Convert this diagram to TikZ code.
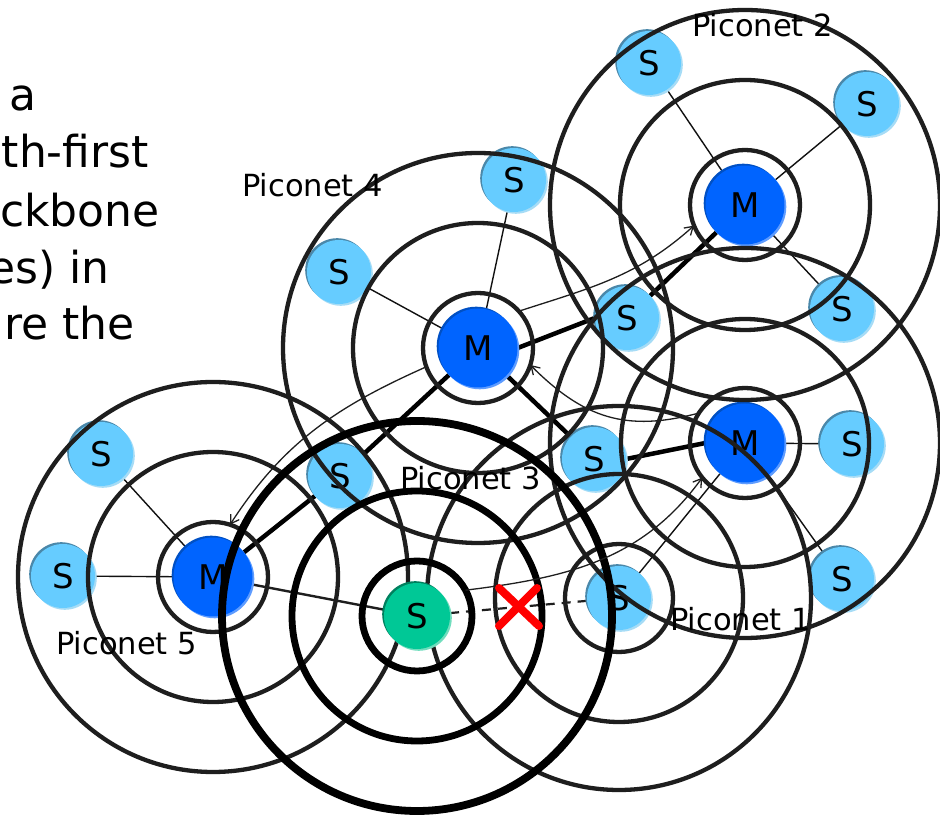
\documentclass[tikz,border=0pt]{standalone}
\usepackage{fontspec}
\setmainfont{DejaVu Sans}
\usetikzlibrary{shadows,arrows.meta}
\definecolor{sfill}{HTML}{66CCFF}
\definecolor{sdark}{HTML}{4A88AA}
\definecolor{slight}{HTML}{A6DCF6}
\definecolor{mfill}{HTML}{0064FF}
\definecolor{mdark}{HTML}{0050C4}
\definecolor{mlight}{HTML}{5E9CFF}
\definecolor{gfill}{HTML}{00C896}
\definecolor{gdark}{HTML}{00805E}
\definecolor{glight}{HTML}{70DDBD}
\definecolor{ringc}{HTML}{1E1E1E}
\definecolor{linkc}{HTML}{111111}
\definecolor{xred}{HTML}{FF0000}
\newcommand\mynodefont{\fontsize{34}{34}\selectfont}
\newcommand\myplabelfont{\fontsize{30.5}{30.5}\selectfont}
\newcommand\mylefttextfont{\fontsize{44}{44}\selectfont}
\pgfdeclarelayer{bg}
\pgfsetlayers{bg,main}
\begin{document}
\begin{tikzpicture}[x=1pt,y=1pt,
  slave/.style={circle, inner sep=0pt, minimum size=64pt, fill=sfill, font=\mynodefont,
    general shadow={fill=sdark, shadow xshift=-1.8pt, shadow yshift=1.8pt},
    general shadow={fill=slight, shadow xshift=1.8pt, shadow yshift=-1.8pt}},
  master/.style={circle, inner sep=0pt, minimum size=79pt, fill=mfill, font=\mynodefont,
    general shadow={fill=mdark, shadow xshift=-1.8pt, shadow yshift=1.8pt},
    general shadow={fill=mlight, shadow xshift=1.8pt, shadow yshift=-1.8pt}},
  bridge/.style={circle, inner sep=0pt, minimum size=66pt, fill=gfill, font=\mynodefont,
    general shadow={fill=gdark, shadow xshift=-1.8pt, shadow yshift=1.8pt},
    general shadow={fill=glight, shadow xshift=1.8pt, shadow yshift=-1.8pt}},
  ring/.style={circle, draw=ringc, line width=4.3pt, inner sep=0pt, outer sep=0pt},
  gring/.style={circle, draw=black, line width=6.8pt, inner sep=0pt, outer sep=0pt},
  thinlink/.style={draw=linkc, line width=1.4pt},
  thicklink/.style={draw=black, line width=4.5pt},
  midlink/.style={draw=ringc, line width=2.4pt},
  dashlink/.style={draw=ringc, line width=2.2pt, dash pattern=on 9pt off 7pt},
  arrowthin/.style={draw=ringc, line width=1.3pt, -{Straight Barb[length=8pt,width=10pt]}},
  redx/.style={draw=xred, line width=8pt, line cap=round},
  plabel/.style={anchor=base west, inner sep=0pt, font=\myplabelfont},
  lefttext/.style={anchor=base east, inner sep=0pt, font=\mylefttextfont}
]
\useasboundingbox (0,0) rectangle (940,816);
\begin{pgfonlayer}{bg}
\fill[white] (0,0) rectangle (940,816);
\end{pgfonlayer}
\clip (0,0) rectangle (940,816);

% cropped slide text on the left
\node[lefttext] (t1) at (37,705) {a};
\node[lefttext] (t2) at (149,648) {th-first};
\node[lefttext] (t3) at (160,589) {ckbone};
\node[lefttext] (t4) at (110,532) {es) in};
\node[lefttext] (t5) at (135,476) {re the};

% masters
\node[master] (M2) at (745,611) {M};
\node[master] (M4) at (478,468) {M};
\node[master] (M1) at (745,373) {M};
\node[master] (M5) at (213,239) {M};
% slaves
\node[slave] (s21) at (649,753) {S};
\node[slave] (s22) at (867,712) {S};
\node[slave] (s23) at (842,507) {S};
\node[slave] (sb2) at (627,498) {S};
\node[slave] (s41) at (514,636) {S};
\node[slave] (s42) at (339,544) {S};
\node[slave] (s51) at (101,362) {S};
\node[slave] (s52) at (63,240) {S};
\node[slave] (sb5) at (340,340) {S};
\node[slave] (sb1) at (594,357) {S};
\node[slave] (s11) at (852,372) {S};
\node[slave] (s12) at (842,237) {S};
\node[slave] (s13) at (619,218) {S};

% range rings
\node[ring, minimum size=110pt] (r2a) at (M2) {};
\node[ring, minimum size=250pt] (r2b) at (M2) {};
\node[ring, minimum size=390pt] (r2c) at (M2) {};
\node[ring, minimum size=110pt] (r4a) at (M4) {};
\node[ring, minimum size=250pt] (r4b) at (M4) {};
\node[ring, minimum size=390pt] (r4c) at (M4) {};
\node[ring, minimum size=110pt] (r1a) at (M1) {};
\node[ring, minimum size=248pt] (r1b) at (M1) {};
\node[ring, minimum size=390pt] (r1c) at (M1) {};
\node[ring, minimum size=110pt] (r5a) at (M5) {};
\node[ring, minimum size=250pt] (r5b) at (M5) {};
\node[ring, minimum size=390pt] (r5c) at (M5) {};
\node[ring, minimum size=108pt] (rsa) at (s13) {};
\node[ring, minimum size=248pt] (rsb) at (s13) {};
\node[ring, minimum size=384pt] (rsc) at (s13) {};

% bridge node and its rings
\coordinate (Gc) at (417,200);
\node[gring, minimum size=110pt] (rga) at (Gc) {};
\node[gring, minimum size=250pt] (rgb) at (Gc) {};
\node[gring, minimum size=390pt, line width=7.8pt] (rgc) at (Gc) {};
\node[bridge] (G) at (Gc) {S};

% links
\begin{pgfonlayer}{bg}
\draw[thinlink] (s21) -- (M2);
\draw[thinlink] (s22) -- (M2);
\draw[thinlink] (s23) -- (M2);
\draw[thinlink] (s41) -- (M4);
\draw[thinlink] (s42) -- (M4);
\draw[thinlink] (s51) -- (M5);
\draw[thinlink] (s52) -- (M5);
\draw[thinlink] (s11) -- (M1);
\draw[thinlink] (s12) -- (M1);
\draw[thinlink] (s13) -- (M1);
\draw[thicklink] (M4.east) -- (sb2.west);
\draw[thicklink] (sb2) -- (M2);
\draw[thicklink] (M4) -- (sb1);
\draw[thicklink] (sb1.east) -- (M1.west);
\draw[thicklink] (M4) -- (sb5);
\draw[thicklink] (sb5) -- (M5);
\draw[midlink] (M5) -- (G);
\draw[dashlink] (G) -- (s13);
\end{pgfonlayer}

% traversal arrows
\draw[arrowthin] (r4a.42) to[out=18, in=222] (r2a.202);
\draw[arrowthin] (r1a.147) to[out=195, in=315, looseness=1.1] (r4a.342);
\draw[arrowthin] (r4a.200) to[out=204, in=57] (r5a.72);
\draw[arrowthin] (rga.28) to[out=7, in=234] (r1a.219);

% broken link mark
\coordinate (X) at (519,209);
\draw[redx] ([shift={(-20,19)}]X) -- ([shift={(20,-19)}]X);
\draw[redx] ([shift={(18,19)}]X) -- ([shift={(-20,-19)}]X);

% labels
\node[plabel] (p2) at (692,779) {Piconet 2};
\node[plabel] (p4) at (242,619) {Piconet 4};
\node[plabel] (p3) at (400,326) {Piconet 3};
\node[plabel] (p5) at (56,161) {Piconet 5};
\node[plabel] (p1) at (670,185) {Piconet 1};
\end{tikzpicture}
\end{document}
